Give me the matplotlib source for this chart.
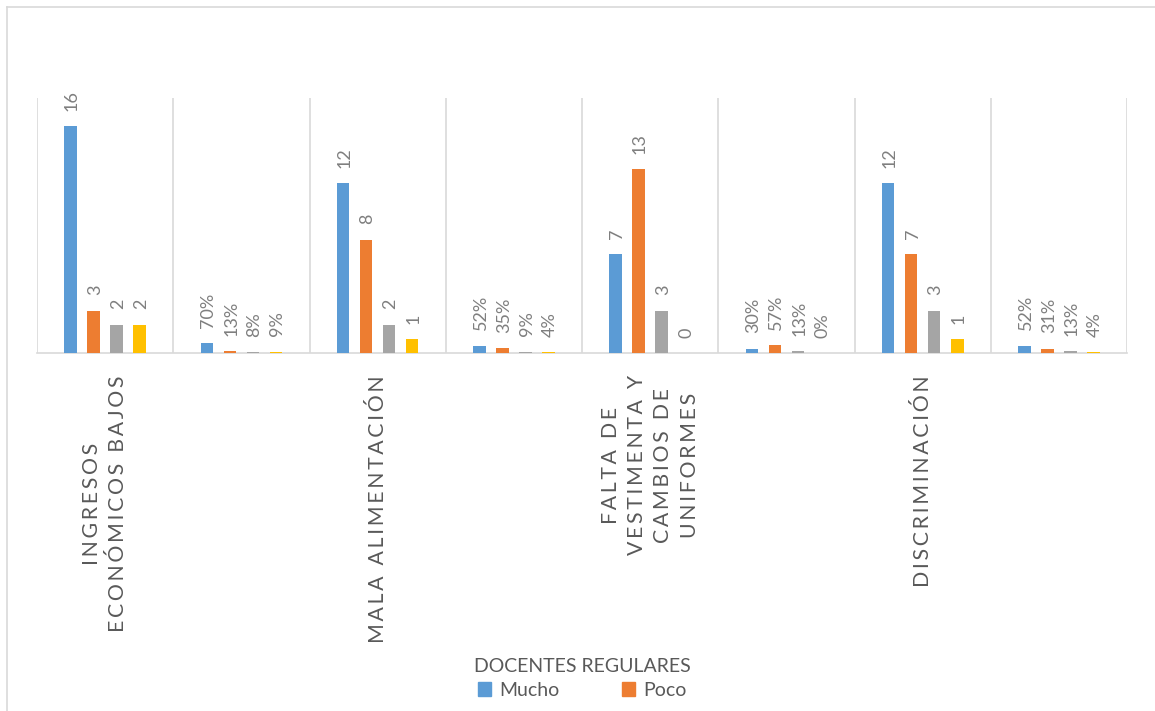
import matplotlib.pyplot as plt
import numpy as np
from matplotlib.lines import Line2D
from matplotlib.patches import Patch

plt.rcParams['font.family'] = ['Lato', 'DejaVu Sans']

categories = ["INGRESOS\nECONÓMICOS BAJOS", "", "MALA ALIMENTACIÓN", "",
              "FALTA DE\nVESTIMENTA Y\nCAMBIOS DE\nUNIFORMES", "", "DISCRIMINACIÓN", ""]
mucho = [16, 0.70, 12, 0.52, 7, 0.30, 12, 0.52]
poco = [3, 0.13, 8, 0.35, 13, 0.57, 7, 0.31]
gris = [2, 0.08, 2, 0.09, 3, 0.13, 3, 0.13]
amarillo = [2, 0.09, 1, 0.04, 0, 0.00, 1, 0.04]
es_porcentaje = [False, True, False, True, False, True, False, True]

series = [("Mucho", mucho, '#5B9BD5'),
          ("Poco", poco, '#ED7D31'),
          ("", gris, '#A5A5A5'),
          ("", amarillo, '#FFC000')]


def spaced(text):
    # imitate the wide character spacing of the original labels
    lines = []
    for line in text.split("\n"):
        lines.append("  ".join("\u2009".join(word) for word in line.split(" ")))
    return "\n".join(lines)


fig = plt.figure(figsize=(11.55, 7.11), dpi=100)
ax = fig.add_axes([37 / 1155, 1 - 353 / 711, 1090 / 1155, 255 / 711])

x = np.arange(len(categories)) + 0.5
step = 0.169
width = 0.093
for k, (name, vals, color) in enumerate(series):
    pos = x + (k - 1.5) * step
    bars = ax.bar(pos, vals, width, color=color, label=name, zorder=3)
    for b, v, pct in zip(bars, vals, es_porcentaje):
        txt = f"{v:.0%}" if pct else f"{v:g}"
        ax.annotate(txt, (b.get_x() + b.get_width() / 2, b.get_height()),
                    xytext=(1, 11), textcoords='offset points',
                    rotation=90, ha='center', va='bottom',
                    fontsize=13, color='#7F7F7F')

ax.set_xlim(0, len(categories))
ax.set_ylim(0, 18)
ax.set_yticks([])
ax.set_xticks(np.arange(len(categories) + 1), minor=True)
ax.set_xticks(x[::2])
ax.set_xticklabels([spaced(c) for c in categories[::2]], rotation=90,
                   va='top', ha='center', multialignment='center',
                   fontsize=15.3, color='#595959', linespacing=1.4)
ax.tick_params(axis='x', which='both', length=0, pad=16)
ax.grid(which='minor', axis='x', color='#D9D9D9', linewidth=1.2, zorder=0)
for side in ['left', 'right', 'top']:
    ax.spines[side].set_visible(False)
ax.spines['bottom'].set_color('#D9D9D9')
ax.spines['bottom'].set_linewidth(1.2)

fig.text(582 / 1155, 1 - 667 / 711, "DOCENTES REGULARES", ha='center', va='center',
         fontsize=14, color='#595959')

handles = [Patch(color=series[0][2]), Patch(color=series[1][2])]
fig.legend(handles, ["Mucho", "Poco"], loc='center', bbox_to_anchor=(582 / 1155, 1 - 690 / 711),
           ncol=2, frameon=False, fontsize=14, labelcolor='#595959',
           handlelength=0.7, handleheight=0.7, handletextpad=0.4, columnspacing=3.2)

# light outer border like the original chart area
fig.add_artist(Line2D([7 / 1155, 7 / 1155], [0, 1 - 7 / 711], transform=fig.transFigure,
                      color='#D9D9D9', linewidth=1.2))
fig.add_artist(Line2D([7 / 1155, 1], [1 - 7 / 711, 1 - 7 / 711], transform=fig.transFigure,
                      color='#D9D9D9', linewidth=1.2))

fig.savefig('out.png', dpi=100)
